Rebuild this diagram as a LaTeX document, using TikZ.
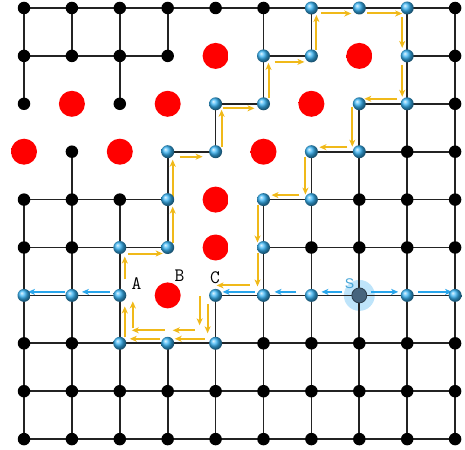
\documentclass[tikz,border=0pt]{standalone}
\usepackage{fontspec}
\newfontfamily\lblsans{Liberation Sans}
\usetikzlibrary{arrows.meta,calc}
\definecolor{yel}{RGB}{240,185,25}
\definecolor{bluarrow}{RGB}{40,165,235}
\definecolor{ballblue}{RGB}{55,180,245}
\definecolor{sdark}{RGB}{70,100,125}
\definecolor{sglow}{RGB}{190,228,250}
\definecolor{slabel}{RGB}{70,165,215}
\definecolor{gridc}{RGB}{35,35,35}
\pgfdeclareradialshading{reddotshade}{\pgfpoint{0bp}{0bp}}{color(0bp)=(red); color(32bp)=(red); color(50bp)=(white)}
\pgfdeclareradialshading{sglowshade}{\pgfpoint{0bp}{0bp}}{color(0bp)=(sglow); color(24bp)=(sglow); color(32bp)=(sglow!60!white); color(38bp)=(sglow!85!white); color(50bp)=(white)}
\tikzset{
  gridline/.style={draw=gridc, line width=1.7pt},
  blackdot/.style={circle, fill=black, inner sep=0pt, minimum size=12.5pt},
  bluedot/.style={circle, ball color=ballblue, inner sep=0pt, minimum size=13pt},
  reddot/.style={circle, shade, shading=reddotshade, inner sep=0pt, minimum size=26pt},
  glownode/.style={circle, shade, shading=sglowshade, inner sep=0pt, minimum size=31pt},
  srcdot/.style={circle, fill=sdark, draw=sdark!60!black, line width=0.8pt, inner sep=0pt, minimum size=15pt},
  yarrow/.style={draw=yel, line width=2pt, -{Stealth[length=7pt,width=6pt,inset=2pt]}},
  barrow/.style={draw=bluarrow, line width=2pt, -{Stealth[length=7pt,width=6pt,inset=2pt]}},
  lbl/.style={inner sep=0pt, font=\ttfamily\fontsize{19}{19}\selectfont, text=black},
  slbl/.style={inner sep=0pt, font=\lblsans\fontsize{14}{14}\selectfont, text=slabel}
}
\newcommand\yar[5]{\draw[yarrow, shorten <=#4pt, shorten >=#5pt] ($(p#1)!#3pt!-90:(p#2)$) -- ($(p#2)!#3pt!90:(p#1)$);}
\newcommand\bluarr[4]{\draw[barrow, shorten <=#3pt, shorten >=#4pt] ([yshift=3.5pt]p#1) -- ([yshift=3.5pt]p#2);}
\begin{document}
\begin{tikzpicture}[x=1pt,y=-1pt]
\useasboundingbox (0,0) rectangle (465,449);
\foreach \i in {0,...,9}{\foreach \j in {0,...,9}{\coordinate (p\i-\j) at ({24+47.9*\i},{8+47.9*\j});}}
\foreach \i/\j in {4/1,7/1,1/2,3/2,6/2,0/3,2/3,5/3,4/4,4/5,3/6}{\expandafter\gdef\csname obs\i-\j\endcsname{}}
\foreach \i/\j in {6/0,7/0,8/0,5/1,6/1,8/1,4/2,5/2,7/2,8/2,3/3,4/3,6/3,7/3,3/4,5/4,6/4,2/5,3/5,5/5,0/6,1/6,2/6,4/6,5/6,6/6,8/6,9/6,2/7,3/7,4/7}{\expandafter\gdef\csname blu\i-\j\endcsname{}}
\expandafter\gdef\csname src7-6\endcsname{}
% obstacles
\foreach \i/\j in {4/1,7/1,1/2,3/2,6/2,0/3,2/3,5/3,4/4,4/5,3/6}{\node[reddot] (r\i-\j) at (p\i-\j) {};}
% source glow
\node[glownode] (sg) at (p7-6) {};
% grid edges
\foreach \i in {0,...,9}{\foreach \j in {0,...,9}{%
  \pgfmathtruncatemacro\ni{\i+1}\pgfmathtruncatemacro\nj{\j+1}%
  \ifcsname obs\i-\j\endcsname\else
    \ifnum\i<9 \ifcsname obs\ni-\j\endcsname\else \draw[gridline] (p\i-\j) -- (p\ni-\j); \fi\fi
    \ifnum\j<9 \ifcsname obs\i-\nj\endcsname\else \draw[gridline] (p\i-\j) -- (p\i-\nj); \fi\fi
  \fi}}
% yellow boundary trace
\foreach \a/\b/\o/\s/\e in {3-5/3-4/5/5/7, 3-4/3-3/5/3/8, 3-3/4-3/5/12/13, 4-3/4-2/6/5/6,
  4-2/5-2/4.5/7/9, 5-2/5-1/5/6/7, 5-1/6-1/6/11/7, 6-1/6-0/5/6/7, 6-0/7-0/5.5/10/8,
  7-0/8-0/5.5/8/5, 8-0/8-1/5/9/8, 8-1/8-2/5/9/7, 8-2/7-2/5/10/5, 7-2/7-3/7/3/5,
  7-3/6-3/4.5/12/8, 6-3/6-4/6/5/5, 6-4/5-4/4.5/12/8, 5-4/5-5/6/5/5, 5-5/5-6/6/5/9,
  5-6/4-6/10/14/1, 4-6/4-7/8/9/10, 4-7/3-7/4.5/11/7, 3-7/2-7/4.5/8/10, 2-7/2-6/5/6/11,
  2-6/2-5/5/16/9, 2-5/3-5/6/8/5,
  4-6/4-7/16/1/18, 4-7/3-7/13/21/5, 3-7/2-7/13/3/12, 2-7/2-6/13/15/6}{\yar{\a}{\b}{\o}{\s}{\e}}
% blue propagation arrows
\bluarr{7-6}{6-6}{17}{10}
\bluarr{6-6}{5-6}{15}{11}
\bluarr{5-6}{4-6}{9}{7}
\bluarr{7-6}{8-6}{12}{9}
\bluarr{8-6}{9-6}{11}{3}
\bluarr{2-6}{1-6}{10}{10}
\bluarr{1-6}{0-6}{7}{4}
% dots
\foreach \i in {0,...,9}{\foreach \j in {0,...,9}{%
  \ifcsname obs\i-\j\endcsname\else
    \ifcsname src\i-\j\endcsname\else
      \ifcsname blu\i-\j\endcsname
        \node[bluedot] (n\i-\j) at (p\i-\j) {};
      \else
        \node[blackdot] (n\i-\j) at (p\i-\j) {};
      \fi
    \fi
  \fi}}
\node[srcdot] (src) at (p7-6) {};
% labels
\node[lbl] (la) at (136.5,283.5) {A};
\node[lbl] (lb) at (179.5,276) {B};
\node[lbl] (lc) at (215,278) {C};
\node[slbl] (ls) at (349.5,284) {S};
\end{tikzpicture}
\end{document}
